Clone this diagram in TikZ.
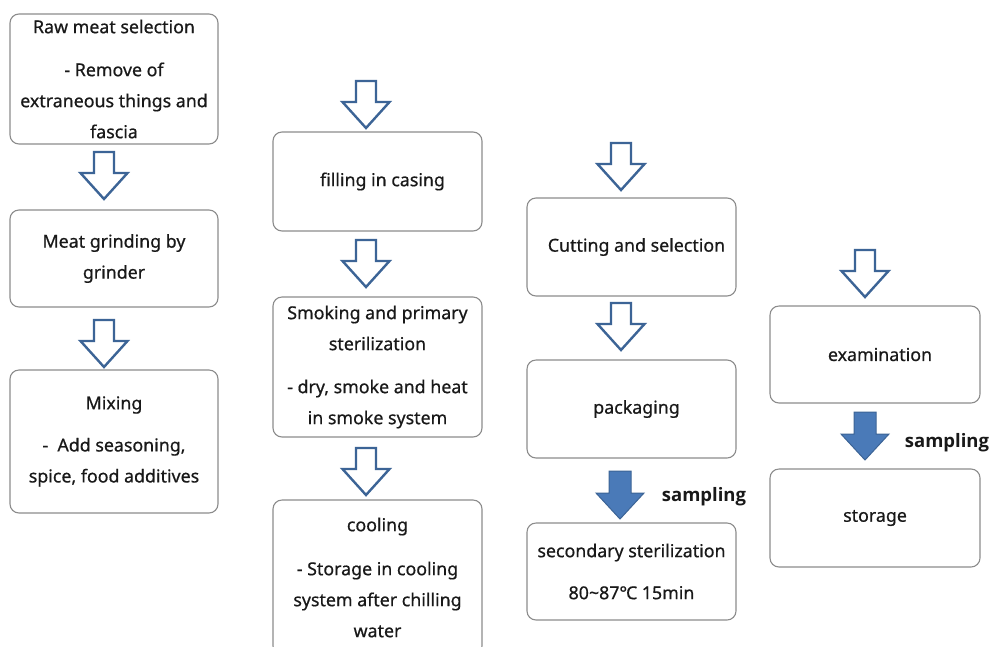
\documentclass[tikz,border=0pt]{standalone}
\usepackage{fontspec}
\setmainfont{Noto Sans}[FakeBold=0.6]
\newfontfamily\sampfont{Open Sans}
\definecolor{boxgray}{HTML}{8C8C8C}
\definecolor{arrowblue}{HTML}{3C6496}
\definecolor{arrowfill}{HTML}{4A7AB8}
\begin{document}
\begin{tikzpicture}[x=1pt,y=-1pt,
  box/.style={draw=boxgray, line width=1.1pt, rounded corners=9pt, fill=white,
    align=center, inner sep=0pt, text=black!90, font=\fontsize{17.8}{31}\selectfont},
  hollow/.style={draw=arrowblue, line width=2.4pt, fill=white, line join=miter},
  solid/.style={draw=arrowblue, line width=1pt, fill=arrowfill, line join=miter},
  samp/.style={font=\sampfont\fontsize{18.5}{22}\selectfont\bfseries, inner sep=0pt, text=black!90},
  downarrow/.pic={\draw[pic actions] (-10,0) -- (10,0) -- (10,21) -- (23.5,21) -- (0,47) -- (-23.5,21) -- (-10,21) -- cycle;},
  fatarrow/.pic={\draw[pic actions] (-11,0) -- (11,0) -- (11,22) -- (24,22) -- (0,48) -- (-24,22) -- (-11,22) -- cycle;}
]
\useasboundingbox (0,0) rectangle (992,646);
\clip (0,0) rectangle (992,646);
\fill[white] (0,0) rectangle (992,646);

% column 1
\node[box, minimum width=208pt, minimum height=130pt] (b1) at (114,79)
  {Raw meat selection\\[12pt]- Remove of\\extraneous things and\\fascia};
\node[box, minimum width=208pt, minimum height=97pt] (b2) at (114,258.5)
  {Meat grinding by\\grinder};
\node[box, minimum width=208pt, minimum height=143pt] (b3) at (114,441.5)
  {Mixing\\[11pt]-\ \ Add seasoning,\\spice, food additives};
\pic[hollow] at (104,152) {downarrow};
\pic[hollow] at (104,320) {downarrow};

% column 2
\node[box, minimum width=209pt, minimum height=99pt] (c1) at (377.5,181.5)
  {\hspace*{10pt}filling in casing};
\node[box, minimum width=209pt, minimum height=140pt] (c2) at (377.5,367)
  {Smoking and primary\\sterilization\\[12pt]- dry, smoke and heat\\in smoke system};
\node[box, minimum width=209pt, minimum height=155pt] (c3) at (377.5,577.5)
  {cooling\\[13pt]- Storage in cooling\\system after chilling\\water};
\pic[hollow] at (366,81) {downarrow};
\pic[hollow] at (366,240) {downarrow};
\pic[hollow] at (366,448) {downarrow};

% column 3
\node[box, minimum width=209pt, minimum height=98pt] (d1) at (631.5,247)
  {\hspace*{10pt}Cutting and selection};
\node[box, minimum width=209pt, minimum height=98pt] (d2) at (631.5,409)
  {\hspace*{10pt}packaging};
\node[box, minimum width=209pt, minimum height=97pt] (d3) at (631.5,571.5)
  {secondary sterilization\\[11pt]80\char`~87℃ 15min};
\pic[hollow] at (621,143) {downarrow};
\pic[hollow] at (621,303) {downarrow};
\pic[solid] at (620,471) {fatarrow};
\node[samp] (s1) at (704,497) {sampling};

% column 4
\node[box, minimum width=210pt, minimum height=97pt] (e1) at (875,354.5)
  {\hspace*{10pt}examination};
\node[box, minimum width=210pt, minimum height=98pt] (e2) at (875,518)
  {storage};
\pic[hollow] at (865,250) {downarrow};
\pic[solid] at (865,412) {fatarrow};
\node[samp] (s2) at (947,443) {sampling};
\end{tikzpicture}
\end{document}
